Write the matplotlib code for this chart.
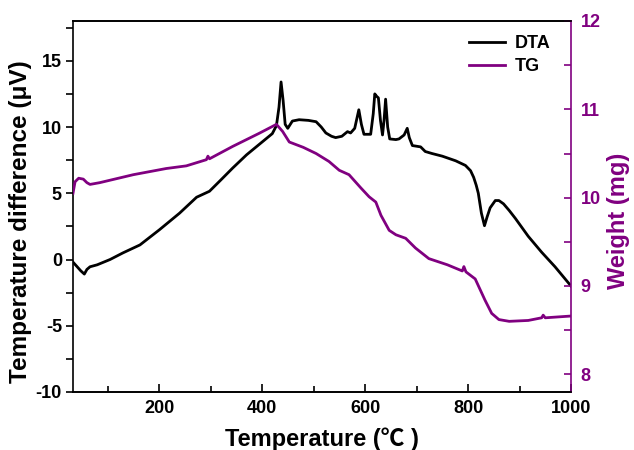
import matplotlib
matplotlib.use("Agg")
import matplotlib.pyplot as plt
from matplotlib.ticker import MultipleLocator

plt.rcParams['font.family'] = ['Liberation Sans', 'DejaVu Sans']
plt.rcParams['font.weight'] = 'bold'
plt.rcParams['axes.unicode_minus'] = False

PURPLE = '#800080'

dta_x = [33, 40, 48, 55, 60, 66, 80, 105, 130, 163, 201, 240, 273, 298, 320, 343, 370, 395, 420, 428,
         433, 437, 441, 445, 450, 459, 472, 490, 505, 515, 524, 535, 543, 555, 566, 572, 580, 588, 593,
         598, 611, 616, 619, 623, 626, 630, 634, 637, 640, 644, 648, 660, 666, 676, 682, 686, 692, 700,
         708, 717, 730, 750, 776, 795, 805, 811, 816, 820, 826, 832, 837, 843, 853, 860, 869, 880, 892,
         917, 943, 969, 1000]
dta_y = [-0.2, -0.5, -0.85, -1.1, -0.75, -0.55, -0.4, 0.0, 0.5, 1.1, 2.25, 3.5, 4.7, 5.15, 6.0, 6.9,
         7.9, 8.7, 9.5, 10.1, 11.5, 13.4, 12.0, 10.2, 9.9, 10.45, 10.55, 10.5, 10.4, 10.0, 9.55, 9.3,
         9.2, 9.3, 9.65, 9.55, 9.9, 11.3, 10.2, 9.45, 9.45, 11.0, 12.5, 12.3, 12.2, 10.5, 9.4, 10.5,
         12.1, 10.0, 9.1, 9.05, 9.1, 9.4, 9.9, 9.2, 8.6, 8.55, 8.5, 8.15, 8.0, 7.8, 7.45, 7.1, 6.7,
         6.2, 5.6, 5.0, 3.5, 2.55, 3.2, 3.9, 4.45, 4.45, 4.2, 3.7, 3.1, 1.75, 0.55, -0.55, -2.0]

tg_x = [33, 37, 44, 53, 60, 66, 85, 150, 214, 253, 292, 295, 298, 343, 395, 428, 440, 453, 480, 505,
        530, 550, 569, 592, 608, 621, 631, 647, 660, 679, 698, 724, 760, 789, 792, 796, 814, 833, 846,
        860, 880, 917, 943, 946, 950, 1000]
tg_y = [10.05, 10.18, 10.22, 10.21, 10.17, 10.15, 10.17, 10.26, 10.33, 10.36, 10.43, 10.47, 10.44,
        10.58, 10.73, 10.83, 10.75, 10.63, 10.57, 10.5, 10.41, 10.31, 10.26, 10.11, 10.01, 9.95, 9.8,
        9.63, 9.58, 9.54, 9.43, 9.31, 9.24, 9.17, 9.22, 9.16, 9.08, 8.84, 8.69, 8.62, 8.6, 8.61,
        8.64, 8.67, 8.64, 8.66]

fig = plt.figure(figsize=(6.34, 4.5), dpi=100)
ax = fig.add_axes([73/634, 58/450, 498/634, 371/450])
ax2 = ax.twinx()

l1, = ax.plot(dta_x, dta_y, color='black', lw=2.0, label='DTA')
l2, = ax2.plot(tg_x, tg_y, color=PURPLE, lw=2.0, label='TG')

ax.set_xlim(33, 1000)
ax.set_ylim(-10, 18)
ax2.set_ylim(7.8, 12)

ax.xaxis.set_major_locator(MultipleLocator(200))
ax.xaxis.set_minor_locator(MultipleLocator(100))
ax.yaxis.set_major_locator(MultipleLocator(5))
ax.yaxis.set_minor_locator(MultipleLocator(2.5))
ax2.yaxis.set_major_locator(MultipleLocator(1))
ax2.yaxis.set_minor_locator(MultipleLocator(0.5))

ax.tick_params(axis='x', which='major', direction='in', length=6, width=1.2, pad=6, labelsize=13, top=False)
ax.tick_params(axis='x', which='minor', direction='in', length=4, width=1.2, top=False)
ax.tick_params(axis='y', which='major', direction='out', length=5, width=1.2, pad=3, labelsize=13, right=False)
ax.tick_params(axis='y', which='minor', direction='out', length=5, width=1.2, right=False)
ax2.tick_params(axis='y', which='major', direction='in', length=5, width=1.2, pad=7, labelsize=13,
                colors=PURPLE)
ax2.tick_params(axis='y', which='minor', direction='in', length=5, width=1.2, colors=PURPLE)

for lab in ax.get_xticklabels() + ax.get_yticklabels() + ax2.get_yticklabels():
    lab.set_fontweight('bold')

for s in ax.spines.values():
    s.set_linewidth(1.2)
for s in ax2.spines.values():
    s.set_linewidth(1.2)
ax.spines['right'].set_visible(False)
ax2.spines['right'].set_color(PURPLE)
ax2.spines['left'].set_visible(False)

ax.set_xlabel('Temperature (℃ )', fontsize=17, fontweight='bold',
              family=['Liberation Sans', 'Noto Sans CJK SC', 'DejaVu Sans'])
ax.xaxis.set_label_coords(0.5, -0.096)
ax.xaxis.label.set_va('top')
ax.set_ylabel('Temperature difference (μV)', fontsize=17.5, fontweight='bold')
ax.yaxis.set_label_coords(-0.082, 0.46)
ax2.set_ylabel('Weight (mg)', fontsize=17, fontweight='bold', color=PURPLE)
ax2.yaxis.set_label_coords(1.072, 0.46)

leg = ax.legend(handles=[l1, l2], loc='upper right', bbox_to_anchor=(0.958, 0.962),
                frameon=False, prop={'size': 13, 'weight': 'bold'}, handlelength=2.0,
                handletextpad=0.5, labelspacing=0.35, borderpad=0, borderaxespad=0)

fig.savefig('out.png', dpi=100)
